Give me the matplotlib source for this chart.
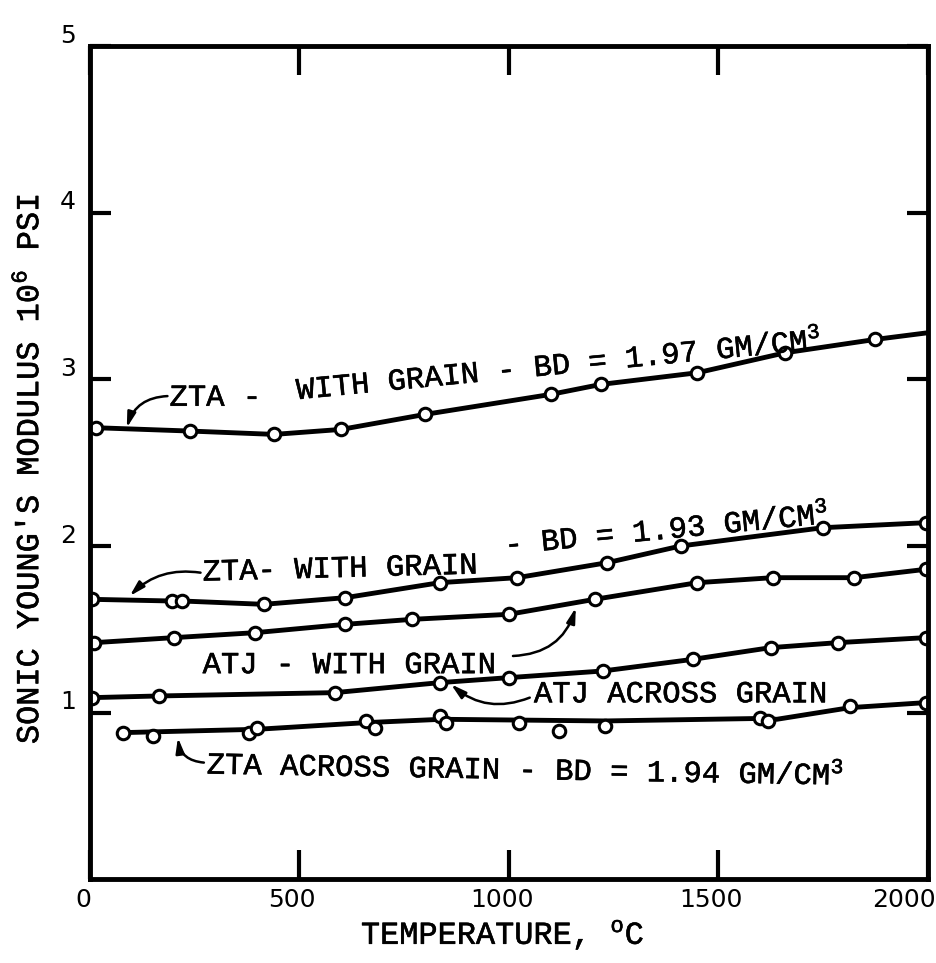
"""
Sonic Young's modulus vs temperature for ZTA and ATJ graphite.
Recreation of a scanned report figure.
"""

import matplotlib
matplotlib.use("Agg")
import matplotlib.pyplot as plt
import matplotlib.transforms as mtransforms
import matplotlib.patheffects as pe

# ZTA with grain, BD = 1.97 (last point is line end, no marker)
zta197_t = [15, 240, 440, 600, 800, 1100, 1220, 1450, 1660, 1875, 2000]
zta197_e = [2.71, 2.69, 2.67, 2.70, 2.79, 2.91, 2.97, 3.04, 3.16, 3.24, 3.28]

# ZTA with grain, BD = 1.93
zta193_t = [5, 195, 220, 415, 610, 835, 1020, 1235, 1410, 1750, 1995]
zta193_e = [1.68, 1.67, 1.67, 1.65, 1.69, 1.78, 1.81, 1.90, 2.00, 2.11, 2.14]

# ATJ with grain
atj_with_t = [10, 200, 395, 610, 770, 1000, 1205, 1450, 1630, 1825, 1995]
atj_with_e = [1.42, 1.45, 1.48, 1.53, 1.56, 1.59, 1.68, 1.78, 1.81, 1.81, 1.86]

# ATJ across grain
atj_across_t = [5, 165, 585, 835, 1000, 1225, 1440, 1625, 1785, 1995]
atj_across_e = [1.09, 1.10, 1.12, 1.18, 1.21, 1.25, 1.32, 1.39, 1.42, 1.45]

# ZTA across grain, BD = 1.94 (scattered points, faired curve)
zta194_t = [80, 150, 380, 400, 660, 680, 835, 850, 1025, 1120, 1230, 1600, 1620, 1815, 1995]
zta194_e = [0.88, 0.86, 0.88, 0.91, 0.95, 0.91, 0.98, 0.94, 0.94, 0.89, 0.92, 0.97, 0.95, 1.04, 1.06]
zta194_curve_t = [80, 400, 660, 840, 1230, 1600, 1640, 1815, 1995]
zta194_curve_e = [0.88, 0.90, 0.94, 0.96, 0.95, 0.965, 0.96, 1.03, 1.06]

x_ticks = [0, 500, 1000, 1500, 2000]
y_ticks = [1, 2, 3, 4, 5]

plt.rcParams["mathtext.fontset"] = "custom"
plt.rcParams["mathtext.rm"] = "Liberation Mono"
plt.rcParams["mathtext.it"] = "Liberation Mono"
plt.rcParams["mathtext.bf"] = "Liberation Mono:bold"

thick = [pe.withStroke(linewidth=0.4, foreground="black")]
TXT = dict(family="Liberation Mono", fontsize=22, color="black", path_effects=thick)
LBL = dict(TXT, fontsize=23)
LINE = dict(color="black", lw=3.5, solid_capstyle="round")
MARK = dict(marker="o", ms=9, mfc="white", mec="black", mew=2.2)
ARROW = dict(arrowstyle="-|>,head_length=0.9,head_width=0.25", color="black",
             lw=1.8, shrinkA=0, shrinkB=0)

fig = plt.figure(figsize=(9.37, 9.63), dpi=100)
ax = fig.add_axes([0.096, 0.087, 0.894, 0.865])

ax.plot(zta197_t, zta197_e, **LINE, **MARK, markevery=slice(0, len(zta197_t) - 1))
ax.plot(zta193_t, zta193_e, **LINE, **MARK)
ax.plot(atj_with_t, atj_with_e, **LINE, **MARK)
ax.plot(atj_across_t, atj_across_e, **LINE, **MARK)
ax.plot(zta194_curve_t, zta194_curve_e, **LINE)
ax.plot(zta194_t, zta194_e, ls="none", **MARK)

ax.set_xlim(0, 2000)
ax.set_ylim(0, 5)
ax.set_xticks(x_ticks)
ax.set_yticks(y_ticks)
ax.tick_params(direction="in", width=3, top=True, right=True, labelsize=18)
ax.tick_params(axis="x", length=21, pad=6)
ax.tick_params(axis="y", length=15, pad=10)
for s in ax.spines.values():
    s.set_linewidth(3.5)

# tick labels sit a little above / left of their ticks in the original
up = mtransforms.ScaledTranslation(0, 0.13, fig.dpi_scale_trans)
for lbl in ax.get_yticklabels():
    lbl.set_transform(lbl.get_transform() + up)
xlbls = ax.get_xticklabels()
left = mtransforms.ScaledTranslation(-0.07, 0, fig.dpi_scale_trans)
for lbl in xlbls[:-1]:
    lbl.set_transform(lbl.get_transform() + left)
xlbls[-1].set_horizontalalignment("right")
xlbls[-1].set_transform(xlbls[-1].get_transform()
                        + mtransforms.ScaledTranslation(0.08, 0, fig.dpi_scale_trans))

ax.set_xlabel("TEMPERATURE, $^{\\mathrm{o}}$C", va="center", **LBL)
ax.xaxis.set_label_coords(0.493, -0.067)
ax.set_ylabel("SONIC YOUNG'S MODULUS 10$^{6}$ PSI", va="center", **LBL)
ax.yaxis.set_label_coords(-0.072, 0.493)

# curve labels
ax.text(190, 2.89, "ZTA -", ha="left", va="center", **TXT)
ax.text(493, 2.93, "WITH GRAIN - BD = 1.97 GM/CM$^{3}$", ha="left", va="center",
        rotation=5.5, rotation_mode="anchor", **TXT)
ax.annotate("", xy=(88, 2.71), xytext=(185, 2.90),
            arrowprops=dict(**ARROW, connectionstyle="arc3,rad=0.35"))

ax.text(269, 1.84, "ZTA- WITH GRAIN", ha="left", va="center",
        rotation=1.5, rotation_mode="anchor", **TXT)
ax.text(990, 2.00, "- BD = 1.93 GM/CM$^{3}$", ha="left", va="center",
        rotation=5.5, rotation_mode="anchor", **TXT)
ax.annotate("", xy=(95, 1.70), xytext=(264, 1.84),
            arrowprops=dict(**ARROW, connectionstyle="arc3,rad=0.25"))

ax.text(269, 1.285, "ATJ - WITH GRAIN", ha="left", va="center", **TXT)
ax.annotate("", xy=(1160, 1.63), xytext=(1010, 1.34),
            arrowprops=dict(**ARROW, connectionstyle="arc3,rad=0.35"))

ax.text(1060, 1.11, "ATJ ACROSS GRAIN", ha="left", va="center", **TXT)
ax.annotate("", xy=(862, 1.17), xytext=(1050, 1.09),
            arrowprops=dict(**ARROW, connectionstyle="arc3,rad=-0.3"))

ax.text(279, 0.684, "ZTA ACROSS GRAIN - BD = 1.94 GM/CM$^{3}$", ha="left", va="center",
        rotation=-1, rotation_mode="anchor", **TXT)
ax.annotate("", xy=(210, 0.85), xytext=(272, 0.70),
            arrowprops=dict(**ARROW, connectionstyle="arc3,rad=-0.4"))

fig.savefig("out.png", dpi=100)
